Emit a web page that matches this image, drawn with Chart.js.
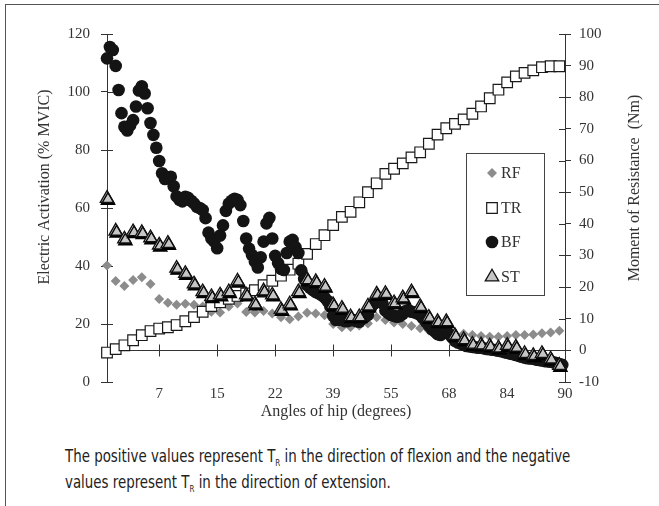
<!DOCTYPE html>
<html>
<head>
<meta charset="utf-8">
<script src="https://cdn.jsdelivr.net/npm/chart.js@4.4.1/dist/chart.umd.min.js"></script>
<style>
  html, body { margin: 0; padding: 0; background: #fff; }
  #wrap { position: relative; width: 659px; height: 506px; overflow: hidden; }
  #frame { position: absolute; left: 5px; top: 4px; width: 700px; height: 600px;
           border-top: 1.5px solid #555; border-left: 1.5px solid #555; }
  #cv { position: absolute; left: 0; top: 0; }
  #note { position: absolute; left: 65px; top: 443px; white-space: nowrap;
          font-family: 'Liberation Sans Narrow', 'DejaVu Sans Condensed', sans-serif;
          font-size: 17px; line-height: 26px; color: #222;
          transform: scaleX(0.875); transform-origin: 0 0; }
  #note sub { font-size: 9px; vertical-align: -4px; line-height: 0; }
</style>
</head>
<body>
<div id="wrap">
  <div id="frame"></div>
  <canvas id="cv" width="659" height="430"></canvas>
  <div id="note">The positive values represent T<sub>R</sub> in the direction of flexion and the negative<br>values represent T<sub>R</sub> in the direction of extension.</div>
</div>
<script>
// x tick labels (hip angle, degrees)
var xLabels = [7, 15, 22, 39, 55, 68, 84, 90];

// RF, % MVIC (one value per step)
var rfVals = [40.2, 34.8, 33.1, 35.2, 36.1, 33.8, 28.6, 27.3, 26.6, 27.0,
  26.6, 26.0, 24.2, 24.0, 26.0, 27.1, 24.1, 24.0, 24.5, 23.6,
  22.3, 21.6, 22.6, 23.9, 23.6, 23.0, 20.0, 18.9, 19.0, 19.5,
  20.2, 22.3, 21.4, 20.5, 20.0, 19.3, 18.5, 17.8, 17.0, 16.3,
  16.5, 16.6, 16.2, 15.9, 15.6, 15.6, 15.9, 16.2, 16.2, 16.4,
  16.8, 17.1, 17.7];

// TR, moment of resistance (Nm)
var trVals = [-0.7, 0.4, 1.6, 3.2, 4.8, 6.1, 6.9, 7.3, 8.0, 9.2,
  10.5, 12.2, 14.0, 15.2, 16.3, 17.2, 18.0, 19.0, 20.6, 22.0,
  23.6, 25.5, 27.4, 30.5, 33.6, 36.4, 39.6, 42.2, 43.8, 46.8,
  50.0, 52.8, 55.8, 57.4, 59.1, 61.0, 62.6, 65.3, 68.2, 70.2,
  71.6, 73.0, 74.8, 77.1, 79.7, 82.4, 84.7, 86.6, 87.7, 88.5,
  89.5, 89.8, 89.8];

// BF, % MVIC (sampled three times per step)
var bfVals = [111.6, 115.5, 114.5, 109.0, 100.7, 92.7, 88.0, 86.7, 88.5, 90.3,
  95.0, 100.5, 102.0, 99.5, 94.4, 89.3, 85.2, 80.8, 76.2, 72.0,
  70.0, 70.5, 70.8, 67.5, 64.0, 62.8, 62.3, 63.9, 63.5, 62.5,
  61.6, 60.4, 60.0, 59.3, 56.5, 51.5, 49.5, 48.4, 46.1, 50.5,
  54.0, 59.0, 61.5, 62.5, 63.2, 62.8, 61.0, 55.5, 49.5, 46.0,
  43.8, 41.5, 39.5, 43.0, 48.4, 54.7, 56.6, 49.5, 43.5, 41.0,
  39.0, 38.6, 44.5, 48.4, 49.0, 46.5, 44.5, 38.5, 35.5, 33.4,
  32.5, 31.7, 31.0, 30.6, 30.0, 29.2, 28.0, 26.0, 22.8, 21.4,
  21.6, 21.4, 21.0, 21.0, 21.3, 21.4, 21.0, 20.8, 21.8, 22.5,
  23.2, 25.5, 27.0, 28.3, 27.8, 27.1, 24.6, 23.8, 23.1, 22.8,
  22.5, 22.7, 23.5, 24.5, 24.8, 24.2, 24.0, 23.7, 23.1, 22.0,
  20.8, 19.5, 18.3, 17.5, 16.5, 16.2, 17.0, 17.9, 16.5, 15.4,
  14.2, 13.6, 13.3, 12.8, 12.4, 12.3, 12.1, 12.0, 11.8, 11.8,
  11.6, 11.4, 11.3, 11.1, 11.0, 10.8, 10.6, 10.3, 10.1, 9.8,
  9.6, 9.3, 9.0, 8.7, 8.4, 8.2, 8.1, 8.0, 7.7, 7.6,
  7.4, 7.2, 7.1, 7.0, 6.8, 6.5, 6.2, 5.9];

// ST, % MVIC
var stVals = [63.3, 52.0, 49.3, 51.8, 51.5, 49.7, 47.2, 47.8, 39.2, 37.4,
  33.8, 31.1, 29.4, 30.0, 31.1, 34.8, 30.0, 26.9, 31.4, 30.0,
  25.0, 26.9, 31.1, 35.3, 34.6, 33.0, 26.6, 25.4, 22.5, 22.5,
  26.2, 30.3, 30.5, 27.3, 29.0, 31.1, 26.0, 22.3, 20.8, 20.8,
  16.0, 14.6, 13.0, 12.8, 12.4, 11.7, 12.6, 12.0, 9.8, 9.1,
  9.8, 7.9, 5.7];

var serif = "'Liberation Serif', 'DejaVu Serif', serif";
var ink = '#333';

function toPoints(vals, step) {
  return vals.map(function (v, i) { return { x: i * step, y: v }; });
}

// x axis: one unit per step, ticks every 6.66 steps starting at 6
var xMax = 52.65;
var firstTick = 6;
var tickStep = (xMax - firstTick) / 7;

var decor = {
  id: 'decor',
  beforeDatasetsDraw: function (chart) {
    var ctx = chart.ctx, a = chart.chartArea;
    var x = chart.scales.x, yL = chart.scales.y, yR = chart.scales.yR;
    ctx.save();
    ctx.strokeStyle = ink;
    ctx.lineWidth = 1;
    ctx.beginPath();
    var y0 = Math.round(yR.getPixelForValue(0)) + 0.5;
    ctx.moveTo(a.left, y0);
    ctx.lineTo(a.right, y0);
    x.ticks.forEach(function (t) {
      var px = Math.round(x.getPixelForValue(t.value)) + 0.5;
      ctx.moveTo(px, y0 - 6);
      ctx.lineTo(px, y0 + 6);
    });
    yL.ticks.forEach(function (t) {
      var py = Math.round(yL.getPixelForValue(t.value)) + 0.5;
      ctx.moveTo(a.left, py);
      ctx.lineTo(a.left + 6, py);
    });
    yR.ticks.forEach(function (t) {
      var py = Math.round(yR.getPixelForValue(t.value)) + 0.5;
      ctx.moveTo(a.right - 6, py);
      ctx.lineTo(a.right, py);
    });
    ctx.stroke();
    ctx.restore();
  },
  beforeDatasetDraw: function (chart, args) {
    if (chart.data.datasets[args.index].label === 'ST') {
      var ctx = chart.ctx;
      ctx.save();
      ctx.shadowColor = '#000';
      ctx.shadowOffsetX = 1;
      ctx.shadowOffsetY = 2;
      ctx.shadowBlur = 0;
    }
  },
  afterDatasetDraw: function (chart, args) {
    if (chart.data.datasets[args.index].label === 'ST') {
      chart.ctx.restore();
    }
  },
  afterDraw: function (chart) {
    var ctx = chart.ctx, a = chart.chartArea;
    ctx.save();
    // axis titles
    ctx.fillStyle = ink;
    ctx.font = '16px ' + serif;
    ctx.textAlign = 'center';
    ctx.textBaseline = 'middle';
    ctx.save();
    ctx.translate(45, 187);
    ctx.rotate(-Math.PI / 2);
    ctx.fillText('Electric Activation (% MVIC)', 0, 0);
    ctx.restore();
    ctx.save();
    ctx.translate(635, 188);
    ctx.rotate(-Math.PI / 2);
    ctx.fillText('Moment of Resistance  (Nm)', 0, 0);
    ctx.restore();

    // legend box
    var bx = a.right - 99, by = a.top + 119, bw = 78, bh = 142;
    ctx.fillStyle = '#fff';
    ctx.fillRect(bx, by, bw, bh);
    ctx.strokeStyle = '#444';
    ctx.lineWidth = 1;
    ctx.strokeRect(bx + 0.5, by + 0.5, bw, bh);
    var rowY = [20, 55, 89, 124];
    chart.data.datasets.slice().sort(function (p, q) { return q.order - p.order; })
      .forEach(function (ds, j) {
        var cy = by + rowY[j];
        ctx.fillStyle = ds.backgroundColor;
        ctx.strokeStyle = ds.borderColor;
        ctx.lineWidth = ds.borderWidth;
        Chart.helpers.drawPoint(ctx, {
          pointStyle: ds.pointStyle,
          radius: ds.label === 'RF' ? 5 : ds.pointRadius,
          rotation: 0,
          borderWidth: ds.borderWidth
        }, bx + 26, cy);
        ctx.fillStyle = ink;
        ctx.font = '16px ' + serif;
        ctx.textAlign = 'left';
        ctx.fillText(ds.label, bx + 35, cy + 1);
      });
    ctx.restore();
  }
};

var ctx = document.getElementById('cv').getContext('2d');
var chart = new Chart(ctx, {
  type: 'scatter',
  data: {
    datasets: [
      {
        label: 'RF', order: 4, data: toPoints(rfVals, 1), yAxisID: 'y',
        pointStyle: 'rectRot', pointRadius: 5, backgroundColor: '#8c8c8c',
        borderColor: '#8c8c8c', borderWidth: 0, clip: false
      },
      {
        label: 'TR', order: 3, data: toPoints(trVals, 1), yAxisID: 'yR',
        pointStyle: 'rect', pointRadius: 7.5, backgroundColor: '#fff',
        borderColor: '#1a1a1a', borderWidth: 1.2, clip: false
      },
      {
        label: 'BF', order: 2, data: toPoints(bfVals, 1 / 3), yAxisID: 'y',
        pointStyle: 'circle', pointRadius: 6.3, backgroundColor: '#141414',
        borderColor: '#141414', borderWidth: 0, clip: false
      },
      {
        label: 'ST', order: 1, data: toPoints(stVals, 1), yAxisID: 'y',
        pointStyle: 'triangle', pointRadius: 7.8, backgroundColor: '#c6c6c6',
        borderColor: '#111', borderWidth: 1.3, clip: false
      }
    ]
  },
  options: {
    responsive: false,
    animation: false,
    events: [],
    layout: { padding: { left: 0, right: 0, top: 34, bottom: 0 } },
    plugins: {
      legend: { display: false },
      tooltip: { enabled: false }
    },
    scales: {
      x: {
        type: 'linear', min: 0, max: xMax,
        afterBuildTicks: function (scale) {
          scale.ticks = xLabels.map(function (_, j) { return { value: firstTick + j * tickStep }; });
        },
        afterFit: function (scale) { scale.height = 48; },
        grid: { display: false, drawTicks: false },
        border: { display: false },
        ticks: {
          autoSkip: false, maxRotation: 0, padding: 3, color: ink,
          font: { family: serif, size: 15 },
          callback: function (v, i) { return xLabels[i]; }
        },
        title: {
          display: true, text: 'Angles of hip (degrees)', color: ink,
          font: { family: serif, size: 16 }, padding: { top: 0, bottom: 9 }
        }
      },
      y: {
        position: 'left', min: 0, max: 120,
        afterFit: function (scale) { scale.width = 107; },
        grid: { drawOnChartArea: false, tickLength: 6, color: ink },
        border: { display: true, color: ink, width: 1 },
        ticks: { stepSize: 20, padding: 11, color: ink, font: { family: serif, size: 15 } }
      },
      yR: {
        position: 'right', min: -10, max: 100,
        afterFit: function (scale) { scale.width = 94; },
        grid: { drawOnChartArea: false, tickLength: 6, color: ink },
        border: { display: true, color: ink, width: 1 },
        ticks: { stepSize: 10, padding: 8, color: ink, font: { family: serif, size: 15 } }
      }
    }
  },
  plugins: [decor]
});
</script>
</body>
</html>
